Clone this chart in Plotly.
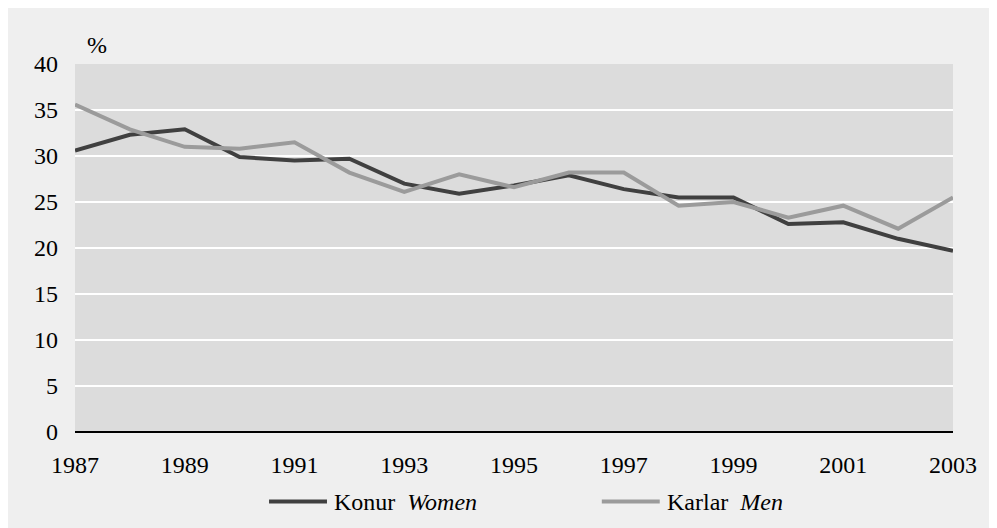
import plotly.graph_objects as go

years = list(range(1987, 2004))
women = [30.6, 32.3, 32.9, 29.9, 29.5, 29.7, 27.0, 25.9, 26.8, 27.9, 26.4, 25.5, 25.5, 22.6, 22.8, 21.0, 19.7]
men = [35.6, 32.9, 31.0, 30.8, 31.5, 28.2, 26.1, 28.0, 26.6, 28.2, 28.2, 24.6, 25.0, 23.3, 24.6, 22.1, 25.5]

dark = "#404040"
light = "#9b9b9b"
serif = "Times New Roman, Liberation Serif, DejaVu Serif, serif"

fig = go.Figure()
fig.add_trace(go.Scatter(x=years, y=women, mode="lines", name="Konur Women",
                         line=dict(color=dark, width=4)))
fig.add_trace(go.Scatter(x=years, y=men, mode="lines", name="Karlar Men",
                         line=dict(color=light, width=4)))

fig.update_layout(
    width=981, height=520,
    margin=dict(l=67, r=36, t=56, b=96),
    paper_bgcolor="#efefef",
    plot_bgcolor="#dcdcdc",
    showlegend=False,
    font=dict(family=serif, size=24, color="black"),
    xaxis=dict(range=[1987, 2003], tickvals=years[::2], showgrid=False,
               zeroline=False, showline=False, ticks="", ticklabelstandoff=16),
    yaxis=dict(range=[0, 40], dtick=5, showgrid=True, gridcolor="white", gridwidth=2,
               zeroline=True, zerolinecolor="black", zerolinewidth=1.5,
               showline=False, ticks="", ticklabelstandoff=16),
)

# "%" unit label
fig.add_annotation(xref="paper", yref="paper", x=0.025, y=1.052, text="%",
                   xanchor="center", yanchor="middle", showarrow=False)

# legend drawn by hand
leg_y = -0.189
for x0, x1, col, txt in [(0.221, 0.287, dark, "Konur  <i>Women</i>"),
                         (0.600, 0.666, light, "Karlar  <i>Men</i>")]:
    fig.add_shape(type="line", xref="paper", yref="paper", x0=x0, x1=x1,
                  y0=leg_y, y1=leg_y, line=dict(color=col, width=4))
    fig.add_annotation(xref="paper", yref="paper", x=x1 + 0.006, y=leg_y,
                       xanchor="left", yanchor="middle", text=txt,
                       showarrow=False)

fig.write_html("out.html")
